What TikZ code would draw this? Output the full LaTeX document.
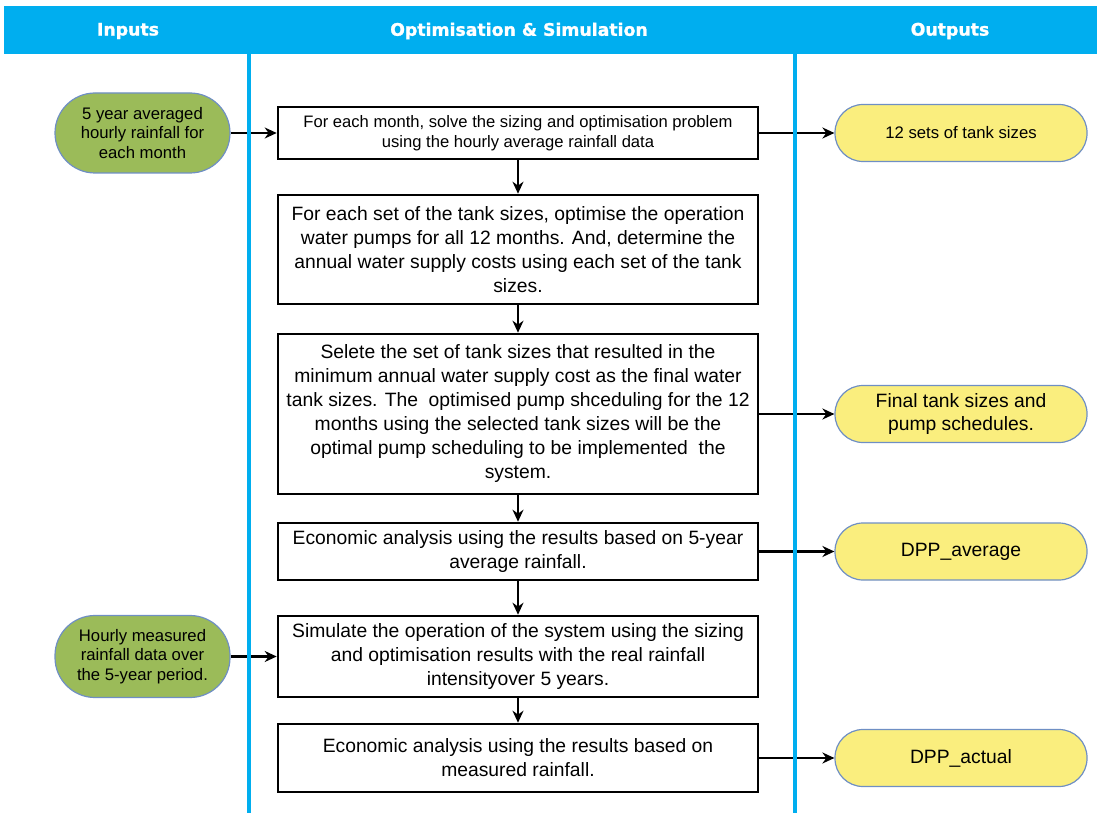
\documentclass[tikz,border=0pt]{standalone}
\usepackage{fontspec}
\setmainfont{Liberation Sans}
\newfontfamily\hdrfont{DejaVu Sans}[BoldFeatures={FakeBold=1.2}]
\usetikzlibrary{arrows.meta}
\definecolor{hdrblue}{HTML}{00AEEF}
\definecolor{ingreen}{HTML}{9BBB59}
\definecolor{outyellow}{HTML}{FAEE7E}
\definecolor{edgeblue}{HTML}{6F8FC4}
\tikzset{
  hdrtext/.style={text=white,font=\hdrfont\bfseries\fontsize{17.3}{20}\selectfont},
  procbox/.style={draw=black,line width=2.6pt,fill=white,minimum width=480pt,align=center,inner sep=0pt,font=\fontsize{19.3}{24}\selectfont},
  smallproc/.style={procbox,font=\fontsize{16.6}{20}\selectfont},
  inbox/.style={draw=edgeblue,line width=1.2pt,fill=ingreen,minimum width=175pt,rounded corners=40pt,align=center,inner sep=0pt,font=\fontsize{16.7}{19.5}\selectfont},
  outbox/.style={draw=edgeblue,line width=1.2pt,fill=outyellow,minimum width=252pt,minimum height=57pt,rounded corners=28pt,align=center,inner sep=0pt,font=\fontsize{19.3}{23}\selectfont},
  flow/.style={line width=2.4pt,-{Stealth[length=12pt,width=11pt]}},
  lane/.style={draw=hdrblue,line width=4pt}
}
\begin{document}
\begin{tikzpicture}[x=1pt,y=-1pt]
\useasboundingbox (0,0) rectangle (1097,813);
% header
\fill[hdrblue] (4,6) rectangle (1097,54);
\node[hdrtext] (hin) at (128,31) {Inputs};
\node[hdrtext] (hopt) at (519,31) {Optimisation \& Simulation};
\node[hdrtext] (hout) at (950,31) {Outputs};
% process boxes
\node[smallproc,minimum height=52pt] (b1) at (518,133) {For each month, solve the sizing and optimisation problem\\using the hourly average rainfall data};
\node[procbox,minimum height=109pt] (b2) at (518,249.5) {For each set of the tank sizes, optimise the operation\\water pumps for all 12 months. And, determine the\\annual water supply costs using each set of the tank\\sizes.};
\node[procbox,minimum height=160pt] (b3) at (518,414) {Selete the set of tank sizes that resulted in the\\minimum annual water supply cost as the final water\\tank sizes. The\ \ optimised pump shceduling for the 12\\months using the selected tank sizes will be the\\optimal pump scheduling to be implemented\ \ the\\system.};
\node[procbox,minimum height=57pt] (b4) at (518,551.5) {Economic analysis using the results based on 5-year\\average rainfall.};
\node[procbox,minimum height=81pt] (b5) at (518,656.5) {Simulate the operation of the system using the sizing\\and optimisation results with the real rainfall\\intensityover 5 years.};
\node[procbox,minimum height=68pt] (b6) at (518,758) {Economic analysis using the results based on\\measured rainfall.};
% inputs
\node[inbox,minimum height=80pt] (i1) at (142.5,133) {5 year averaged\\hourly rainfall for\\each month};
\node[inbox,minimum height=82pt] (i2) at (142.5,656.5) {Hourly measured\\rainfall data over\\the 5-year period.};
% outputs
\node[outbox,font=\fontsize{16.7}{20}\selectfont] (o1) at (961,133) {12 sets of tank sizes};
\node[outbox] (o2) at (961,414) {Final tank sizes and\\pump schedules.};
\node[outbox] (o3) at (961,551.5) {DPP\_average};
\node[outbox] (o4) at (961,758) {DPP\_actual};
% connectors
\draw[flow] (i1.east) -- (b1.west);
\draw[flow] (i2.east) -- (b5.west);
\draw[flow] (b1) -- (b2);
\draw[flow] (b2) -- (b3);
\draw[flow] (b3) -- (b4);
\draw[flow] (b4) -- (b5);
\draw[flow] (b5) -- (b6);
\draw[flow] (b1.east) -- (o1.west);
\draw[flow] (b3.east) -- (o2.west);
\draw[flow] (b4.east) -- (o3.west);
\draw[flow] (b6.east) -- (o4.west);
% lanes
\coordinate (l1t) at (249,54);
\coordinate (l1b) at (249,813);
\coordinate (l2t) at (795,54);
\coordinate (l2b) at (795,813);
\draw[lane] (l1t) -- (l1b);
\draw[lane] (l2t) -- (l2b);
\end{tikzpicture}
\end{document}
